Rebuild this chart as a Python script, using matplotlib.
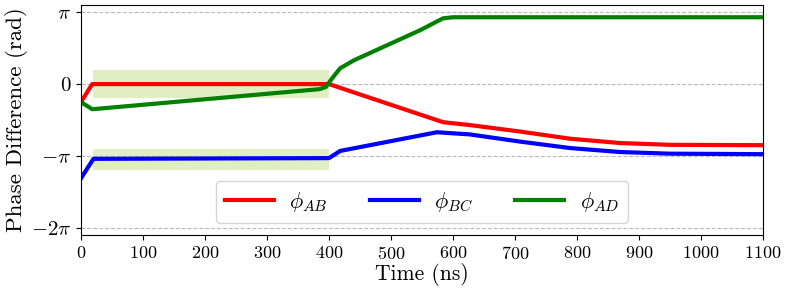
import numpy as np
import matplotlib
matplotlib.use('Agg')
import matplotlib.pyplot as plt

plt.rcParams['font.family'] = 'serif'
plt.rcParams['font.serif'] = ['cmr10', 'DejaVu Serif']
plt.rcParams['mathtext.fontset'] = 'cm'
plt.rcParams['axes.formatter.use_mathtext'] = True
plt.rcParams['axes.unicode_minus'] = False

# phase values are given in units of pi
t_ab = [0, 18, 400, 584, 627, 708, 789, 869, 950, 1100]
ab = [-0.25, 0.0, 0.0, -0.53, -0.57, -0.66, -0.76, -0.82, -0.845, -0.85]

t_bc = [0, 20, 400, 418, 574, 627, 708, 789, 869, 950, 1100]
bc = [-1.31, -1.04, -1.03, -0.93, -0.67, -0.70, -0.80, -0.89, -0.945, -0.968, -0.975]

t_ad = [0, 18, 385, 395, 405, 418, 440, 547, 584, 600, 1100]
ad = [-0.25, -0.35, -0.07, -0.04, 0.08, 0.22, 0.33, 0.75, 0.915, 0.93, 0.93]

labels = [r'$\phi_{AB}$', r'$\phi_{BC}$', r'$\phi_{AD}$']
colors = ['red', 'blue', 'green']

# shaded target bands: (t0, t1, low, high) in units of pi
bands = [(20, 400, -0.2, 0.2), (20, 400, -1.2, -0.9)]

yticks = [-2, -1, 0, 1]
yticklabels = [r'$-2\pi$', r'$-\pi$', r'$0$', r'$\pi$']

fig = plt.figure(figsize=(7.89, 2.96), dpi=100)
ax = fig.add_axes([0.1027, 0.206, 0.8643, 0.777])

for t0, t1, lo, hi in bands:
    ax.fill_between([t0, t1], lo * np.pi, hi * np.pi, color='yellowgreen', alpha=0.3, lw=0)

for t, v, c, lab in zip([t_ab, t_bc, t_ad], [ab, bc, ad], colors, labels):
    ax.plot(t, np.array(v) * np.pi, color=c, lw=3, label=lab)

for y in yticks:
    ax.axhline(y * np.pi, color='#bbbbbb', ls='--', lw=0.8, zorder=0)

ax.set_xlim(0, 1100)
ax.set_ylim(-2.1 * np.pi, 1.1 * np.pi)
ax.set_xticks(np.arange(0, 1101, 100))
ax.set_yticks([y * np.pi for y in yticks])
ax.set_yticklabels(yticklabels)
ax.tick_params(axis='x', labelsize=13)
ax.tick_params(axis='y', labelsize=15)
ax.set_xlabel('Time (ns)', fontsize=15.5, labelpad=1)
ax.set_ylabel('Phase Difference (rad)', fontsize=16.5, labelpad=2)

ax.legend(loc='lower center', ncol=3, fontsize=16, handlelength=2.2,
          columnspacing=1.9, handletextpad=0.7, borderaxespad=0.55)

fig.savefig('out.png', dpi=100)
